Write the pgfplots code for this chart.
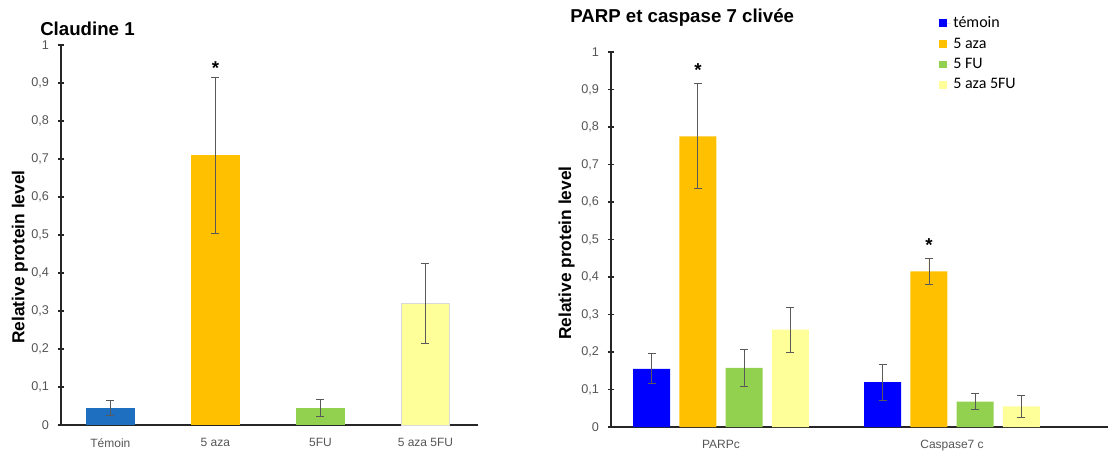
\documentclass[border=0pt]{standalone}
\usepackage{fontspec}
\setmainfont{Liberation Sans}
\newfontfamily\carlito{Carlito}
\usepackage{pgfplots}
\pgfplotsset{compat=1.18}

\definecolor{cBlueL}{HTML}{1F6FC0}
\definecolor{cBlue}{HTML}{0000FF}
\definecolor{cOrange}{HTML}{FFC000}
\definecolor{cGreen}{HTML}{92D050}
\definecolor{cYellow}{HTML}{FFFF99}
\definecolor{tickgray}{HTML}{555555}

% shared look of both panels
\pgfplotsset{
  refchart/.style={
    scale only axis, anchor=south west,
    ybar, ymin=0, ymax=1,
    axis x line=bottom, axis y line=left,
    axis line style={-, line width=1.3pt, black!85},
    ytick={0,0.1,0.2,0.3,0.4,0.5,0.6,0.7,0.8,0.9,1},
    yticklabels={0,{0,1},{0,2},{0,3},{0,4},{0,5},{0,6},{0,7},{0,8},{0,9},1},
    tick align=center, major tick length=5pt,
    ytick style={line width=1.2pt, black!85},
    xtick style={draw=none},
    tick label style={text=tickgray},
    yticklabel style={font=\fontsize{9.5}{11}\selectfont, xshift=-3pt},
    xticklabel style={font=\fontsize{9}{11}\selectfont, yshift=-4pt},
    error bars/y dir=both, error bars/y explicit,
    error bars/error bar style={draw=black!65, line width=0.6pt},
    error bars/error mark options={draw=black!65, rotate=90, mark size=3pt, line width=0.6pt},
  }
}

\begin{document}
\begin{tikzpicture}
\useasboundingbox (0,0) rectangle (831.75pt,337.5pt);

% ---- Claudine 1
\begin{axis}[refchart,
  at={(45.75pt,18.75pt)}, width=312.75pt, height=285pt,
  xmin=-0.47, xmax=3.5,
  xtick={0,1,2,3}, xticklabels={Témoin,5 aza,5FU,5 aza 5FU},
  bar width=0.46]
\addplot[fill=cBlueL, draw=none, bar shift=0] coordinates {(0,0.045) +- (0,0.02)};
\addplot[fill=cOrange, draw=none, bar shift=0] coordinates {(1,0.71) +- (0,0.205)};
\addplot[fill=cGreen, draw=none, bar shift=0] coordinates {(2,0.045) +- (0,0.023)};
\addplot[fill=cYellow, draw=black!15, bar shift=0] coordinates {(3,0.32) +- (0,0.105)};
\node[font=\bfseries\fontsize{14}{14}\selectfont] at (axis cs:1,0.94) {*};
\end{axis}

% ---- PARP et caspase 7 clivee
\begin{axis}[refchart,
  at={(458.25pt,17.25pt)}, width=372.75pt, height=281.25pt,
  xmin=-0.476, xmax=1.675,
  xtick={0,1}, xticklabels={PARPc,Caspase7 c},
  bar width=0.16,
  legend style={at={(0.652,1.109)}, anchor=north west, draw=none, fill=none,
    font=\carlito\fontsize{12}{14}\selectfont, cells={anchor=west}, row sep=2.1pt},
  legend image code/.code={\fill[#1] (0pt,-3pt) rectangle (5.5pt,2.8pt); \path (0pt,0pt) -- (8.5pt,0pt);}]
\addplot[fill=cBlue, draw=none, bar shift=-0.3] coordinates {(0,0.155) +- (0,0.04) (1,0.12) +- (0,0.048)};
\addplot[fill=cOrange, draw=none, bar shift=-0.1] coordinates {(0,0.775) +- (0,0.14) (1,0.415) +- (0,0.035)};
\addplot[fill=cGreen, draw=none, bar shift=0.1] coordinates {(0,0.158) +- (0,0.05) (1,0.068) +- (0,0.021)};
\addplot[fill=cYellow, draw=none, bar shift=0.3] coordinates {(0,0.26) +- (0,0.06) (1,0.055) +- (0,0.029)};
\legend{témoin,5 aza,5 FU,5 aza 5FU}
\node[font=\bfseries\fontsize{14}{14}\selectfont] at (axis cs:-0.1,0.953) {*};
\node[font=\bfseries\fontsize{14}{14}\selectfont] at (axis cs:0.9,0.486) {*};
\end{axis}

% titles and y labels
\node[anchor=base west, inner sep=0, font=\bfseries\fontsize{14}{14}\selectfont] at (30pt,310.5pt) {Claudine 1};
\node[anchor=base west, inner sep=0, font=\bfseries\fontsize{14}{14}\selectfont] at (427.5pt,320.25pt) {PARP et caspase 7 clivée};
\node[rotate=90, font=\bfseries\fontsize{13}{13}\selectfont] at (15pt,144.75pt) {Relative protein level};
\node[rotate=90, font=\bfseries\fontsize{13}{13}\selectfont] at (425pt,147.75pt) {Relative protein level};
\end{tikzpicture}
\end{document}
